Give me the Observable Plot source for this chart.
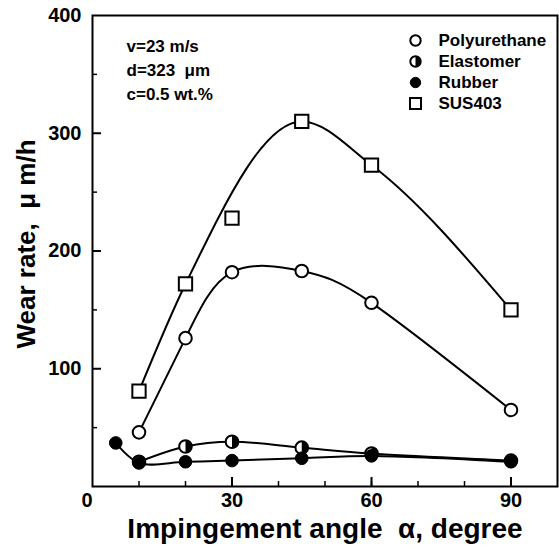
<!DOCTYPE html>
<html>
<head>
<meta charset="utf-8">
<script src="https://cdn.jsdelivr.net/npm/d3@7"></script>
<script src="https://cdn.jsdelivr.net/npm/@observablehq/plot@0.6"></script>
<style>
  body { margin: 0; background: #fff; }
  #chart svg { display: block; }
</style>
</head>
<body>
<div id="chart"></div>
<script>
// Wear rate vs impingement angle for four materials
const seriesNames = ["Polyurethane", "Elastomer", "Rubber", "SUS403"];

const polyAngle = [10, 20, 30, 45, 60, 90];
const polyWear = [46, 126, 182, 183, 156, 65];

const elastAngle = [10, 20, 30, 45, 60, 90];
const elastWear = [21, 34, 38, 33, 28, 22];

const rubberAngle = [5, 10, 20, 30, 45, 60, 90];
const rubberWear = [37, 20, 21, 22, 24, 26, 21];

const susAngle = [10, 20, 30, 45, 60, 90];
const susWear = [81, 172, 228, 310, 273, 150];
// the fitted SUS403 curve passes by the 30° reading rather than through it
const susCurveSkip = [30];

const conditions = ["v=23 m/s", "d=323  \u03bcm", "c=0.5 wt.%"];

const xTickLabels = [30, 60, 90];
const xMinorTicks = [10, 20, 30, 40, 50, 60, 70, 80, 90];
const xMajorTicks = [30, 60, 90];
const yTickLabels = [100, 200, 300, 400];
const yMinorTicks = [50, 150, 250, 350];
const yMajorTicks = [100, 200, 300];

const xTitle = "Impingement angle  \u03b1, degree";
const yTitle = "Wear rate,  \u03bc m/h";

const toRows = (xs, ys) => xs.map((x, i) => ({x, y: ys[i]}));
const poly = toRows(polyAngle, polyWear);
const elast = toRows(elastAngle, elastWear);
const rubber = toRows(rubberAngle, rubberWear);
const sus = toRows(susAngle, susWear);
const susCurve = sus.filter(d => !susCurveSkip.includes(d.x));

// right half of a disc, for the half-filled elastomer marker
const halfDisc = {
  draw(context, size) {
    const r = Math.sqrt(size / Math.PI);
    context.moveTo(0, -r);
    context.arc(0, 0, r, -Math.PI / 2, Math.PI / 2);
    context.closePath();
  }
};

const W = 559, H = 549;
const mL = 92, mR = 2, mT = 15, mB = 63;
const plotW = W - mL - mR, plotH = H - mT - mB;
const font = "'Liberation Sans', Arial, Helvetica, sans-serif";

const markerStyles = {
  Polyurethane: [{symbol: "circle", fill: "white", stroke: "black", strokeWidth: 2}],
  Elastomer: [
    {symbol: "circle", fill: "white", stroke: "black", strokeWidth: 2},
    {symbol: halfDisc, fill: "black", stroke: "none"}
  ],
  Rubber: [{symbol: "circle", fill: "black", stroke: "black", strokeWidth: 1}],
  SUS403: [{symbol: "square", fill: "white", stroke: "black", strokeWidth: 2}]
};

function points(data, name, r) {
  return markerStyles[name].map(s => Plot.dot(data, {x: "x", y: "y", r, ...s}));
}

const legendMarks = seriesNames.flatMap((name, i) => {
  const dy = 25 + i * 21;
  const r = name === "SUS403" ? 6.2 : 5.2;
  return [
    ...markerStyles[name].map(s => Plot.dot([name], {frameAnchor: "top-left", dx: 323, dy, r, ...s})),
    Plot.text([name], {frameAnchor: "top-left", dx: 346, dy, text: d => d, textAnchor: "start",
      lineAnchor: "middle", fontSize: 17, fontWeight: "bold", fill: "black"})
  ];
});

const conditionMarks = conditions.map((t, i) =>
  Plot.text([t], {frameAnchor: "top-left", dx: 34, dy: 31 + i * 24, text: d => d, textAnchor: "start",
    lineAnchor: "middle", fontSize: 17, fontWeight: "bold", fill: "black"}));

const chart = Plot.plot({
  width: W,
  height: H,
  marginLeft: mL,
  marginRight: mR,
  marginTop: mT,
  marginBottom: mB,
  style: {fontFamily: font, background: "white", color: "black"},
  x: {domain: [0, 100], axis: null},
  y: {domain: [0, 400], axis: null},
  marks: [
    // inward ticks along the bottom and left edges
    Plot.tickX(xMinorTicks, {x: d => d, insetTop: plotH - 5, stroke: "black", strokeWidth: 1.5}),
    Plot.tickX(xMajorTicks, {x: d => d, insetTop: plotH - 9, stroke: "black", strokeWidth: 2}),
    Plot.tickY(yMinorTicks, {y: d => d, insetRight: plotW - 5, stroke: "black", strokeWidth: 1.5}),
    Plot.tickY(yMajorTicks, {y: d => d, insetRight: plotW - 9, stroke: "black", strokeWidth: 2}),
    Plot.frame({stroke: "black", strokeWidth: 2}),

    // tick labels
    Plot.text(xTickLabels, {x: d => d, frameAnchor: "bottom", dy: 14, lineAnchor: "middle", text: d => String(d),
      fontSize: 20, fontWeight: "bold", fill: "black"}),
    Plot.text(yTickLabels, {y: d => d, frameAnchor: "left", dx: -11, text: d => String(d), textAnchor: "end",
      lineAnchor: "middle", fontSize: 20, fontWeight: "bold", fill: "black"}),
    Plot.text([0], {frameAnchor: "bottom-left", dx: -11, dy: 14, lineAnchor: "middle", text: d => String(d),
      fontSize: 20, fontWeight: "bold", fill: "black"}),

    // axis titles
    Plot.text([xTitle], {frameAnchor: "bottom", dy: 43, lineAnchor: "middle", textAnchor: "middle", text: d => d,
      fontSize: 28, fontWeight: "bold", fill: "black"}),
    Plot.text([yTitle], {frameAnchor: "left", dx: -66, dy: -7, rotate: -90, lineAnchor: "middle", textAnchor: "middle",
      text: d => d, fontSize: 26, fontWeight: "bold", fill: "black"}),

    // curves
    Plot.line(susCurve, {x: "x", y: "y", curve: "monotone-x", stroke: "black", strokeWidth: 2}),
    Plot.line(poly, {x: "x", y: "y", curve: "natural", stroke: "black", strokeWidth: 2}),
    Plot.line(elast, {x: "x", y: "y", curve: "catmull-rom", stroke: "black", strokeWidth: 2}),
    Plot.line(rubber, {x: "x", y: "y", curve: "catmull-rom", stroke: "black", strokeWidth: 2}),

    // data points
    ...points(sus, "SUS403", 7.5),
    ...points(poly, "Polyurethane", 6.3),
    ...points(elast, "Elastomer", 6.3),
    ...points(rubber, "Rubber", 6.3),

    ...conditionMarks,
    ...legendMarks
  ]
});

document.getElementById("chart").append(chart);
</script>
</body>
</html>
